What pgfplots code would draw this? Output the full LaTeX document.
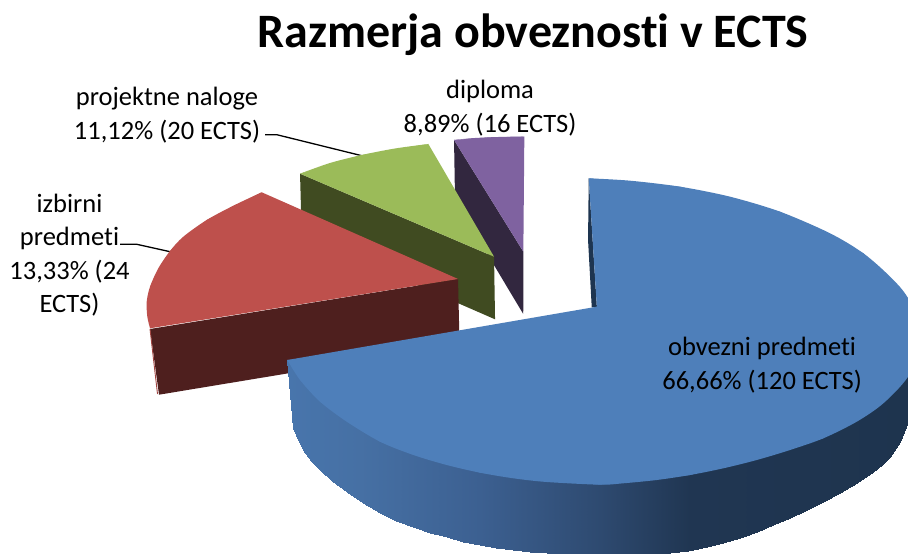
\documentclass[border=0pt]{standalone}
\usepackage{fontspec}
\setmainfont[Ligatures=NoCommon]{Carlito}
\usepackage{pgfplots}
\pgfplotsset{compat=1.18}
\definecolor{cblue}{HTML}{4E7FBA}
\definecolor{cred}{HTML}{BE504C}
\definecolor{cgreen}{HTML}{9BBB59}
\definecolor{cpurple}{HTML}{7F62A0}
\definecolor{dgreen}{HTML}{404B21}
\definecolor{dred}{HTML}{4E1F1E}
\definecolor{dpurple}{HTML}{32273F}
\definecolor{dblue}{HTML}{1E3550}
\begin{document}
\begin{tikzpicture}
\useasboundingbox (0,0) rectangle (908pt,554pt);
\begin{axis}[
  at={(0,0)}, anchor=south west,
  scale only axis, width=908pt, height=554pt,
  xmin=0, xmax=908, ymin=0, ymax=554, zmin=-1, zmax=1, y dir=reverse,
  view={0}{90},
  hide axis, clip=true,
  colormap={blueside}{rgb255(288)=(72,117,172) rgb255(360)=(70,112,164) rgb255(480)=(60,96,145) rgb255(600)=(46,74,112) rgb255(690)=(32,54,82) rgb255(915)=(30,52,78)},
  every axis plot/.append style={draw=none, line width=0pt},
]
% leader lines
\addplot[draw=black, line width=1.3pt] coordinates {(265,134.7) (276.7,134.7) (361.7,155.7)};
\addplot[draw=black, line width=1.3pt] coordinates {(120,244.3) (136.7,244.3) (170,251.7)};
% diploma
\addplot[fill=dpurple] coordinates {(454,140) (523.3,251.7) (523.2,314) (455,200)};
\addplot[fill=cpurple, smooth] coordinates {(454,140) (472,138.2) (490,137.3) (507,136.8) (524.3,136.7)};
\addplot[fill=cpurple] coordinates {(454,140) (490,137.3) (524.3,136.7) (523.3,251.7)};
% projektne naloge
\addplot[fill=dgreen] coordinates {(300,173.7) (494,256.7) (495,319.3) (301.7,235)};
\addplot[fill=cgreen, smooth] coordinates {(300,173.7) (330,163) (361.7,155) (395,148.5) (428.3,144)};
\addplot[fill=cgreen] coordinates {(300,173.7) (361.7,155) (428.3,144) (494,256.7)};
% izbirni predmeti
\addplot[fill=dred] coordinates {(150,329) (458,279) (459.5,345) (159,394.7)};
\addplot[draw=cred!85!black, line width=0.9pt] coordinates {(150,329) (157.5,394)};
\addplot[fill=cred, smooth] coordinates {(261.7,192.3) (233.3,205.7) (206.7,220) (183.3,236.7) (170,251) (158.3,268.3) (150,286.7) (146.7,301.7) (147.3,316.7) (150,328.3)};
\addplot[fill=cred] coordinates {(261.7,192.3) (206.7,220) (170,251) (150,286.7) (150,328.3) (458,279)};
% obvezni predmeti
\addplot[fill=dblue] coordinates {(588.7,178.3) (596.8,306.7) (591.7,307.5) (588,240)};
\addplot3[surf, shader=interp, mesh/ordering=y varies, mesh/rows=2, point meta=x, point meta min=288, point meta max=915] table {
287.3 360 0
292.7 428.3 0
297.5 370 0
297.5 440 0
303.3 377 0
303.3 450 0
311 385 0
311 461 0
320 395 0
320 470 0
332 405 0
332 481 0
346.7 415 0
346.7 491.7 0
363 426 0
363 503 0
380 435 0
380 513.3 0
396 442 0
396 520.5 0
413.3 449 0
413.3 526.7 0
430 454 0
430 532.5 0
446.7 459 0
446.7 537.3 0
463 463 0
463 541.5 0
480 466 0
480 545 0
496 469 0
496 548 0
513.3 472 0
513.3 550 0
530 474 0
530 552 0
546.7 476 0
546.7 553.3 0
573 477 0
573 555 0
600 478 0
600 555.5 0
635 477 0
635 555.3 0
670 472 0
670 553.3 0
688 469 0
688 550.5 0
706.7 466 0
706.7 546.7 0
723 462 0
723 543 0
740 458 0
740 538.3 0
757 454 0
757 532 0
773.3 449 0
773.3 525 0
790 444 0
790 518 0
806.7 438 0
806.7 510 0
823 432 0
823 502 0
840 424 0
840 493.3 0
857 415 0
857 483 0
873.3 404 0
873.3 471.7 0
882 398 0
882 464.5 0
890 391 0
890 456.7 0
900 381 0
900 441.7 0
908 370 0
908 421.7 0
915 360 0
915 400 0
};
\addplot[fill=cblue, smooth] coordinates {(588.7,178.3) (630,180.7) (680,186.7) (730,196.7) (780,211.7) (830,233.3) (863.3,253.3) (890,276.7) (908,298.3) (925,340)};
\addplot[fill=cblue, smooth] coordinates {(925,340) (908,376.7) (883.3,403.3) (856.7,421.7) (823.3,438.3) (790,450) (756.7,460) (723.3,468.3) (690,475) (656.7,480) (623.3,483.3) (600,484.7) (546.7,482) (513.3,478.3) (480,472.7) (446.7,465) (413.3,455) (380,441.7) (346.7,421.7) (320,401.7) (300,380) (287.3,360)};
\addplot[fill=cblue] coordinates {(596.8,306.7) (588.7,178.3) (680,186.7) (780,211.7) (863.3,253.3) (908,298.3) (925,340) (823.3,438.3) (690,475) (600,484.7) (480,472.7) (380,441.7) (320,401.7) (287.3,360)};
% labels
\node[font=\fontsize{48}{56}\selectfont\bfseries] at (axis cs:533,35) {Razmerja obveznosti v ECTS};
\node[align=center, font=\fontsize{26.5}{33.5}\selectfont, inner sep=0pt] at (axis cs:167,115) {projektne naloge\\11,12\% (20 ECTS)};
\node[align=center, font=\fontsize{26.5}{33.5}\selectfont, inner sep=0pt] at (axis cs:490,108) {diploma\\8,89\% (16 ECTS)};
\node[align=center, font=\fontsize{26.5}{33.5}\selectfont, inner sep=0pt] at (axis cs:69.5,255) {izbirni\\predmeti\\13,33\% (24\\ECTS)};
\node[align=center, font=\fontsize{26.5}{33.5}\selectfont, inner sep=0pt] at (axis cs:762,365) {obvezni predmeti\\66,66\% (120 ECTS)};
\end{axis}
\end{tikzpicture}
\end{document}
